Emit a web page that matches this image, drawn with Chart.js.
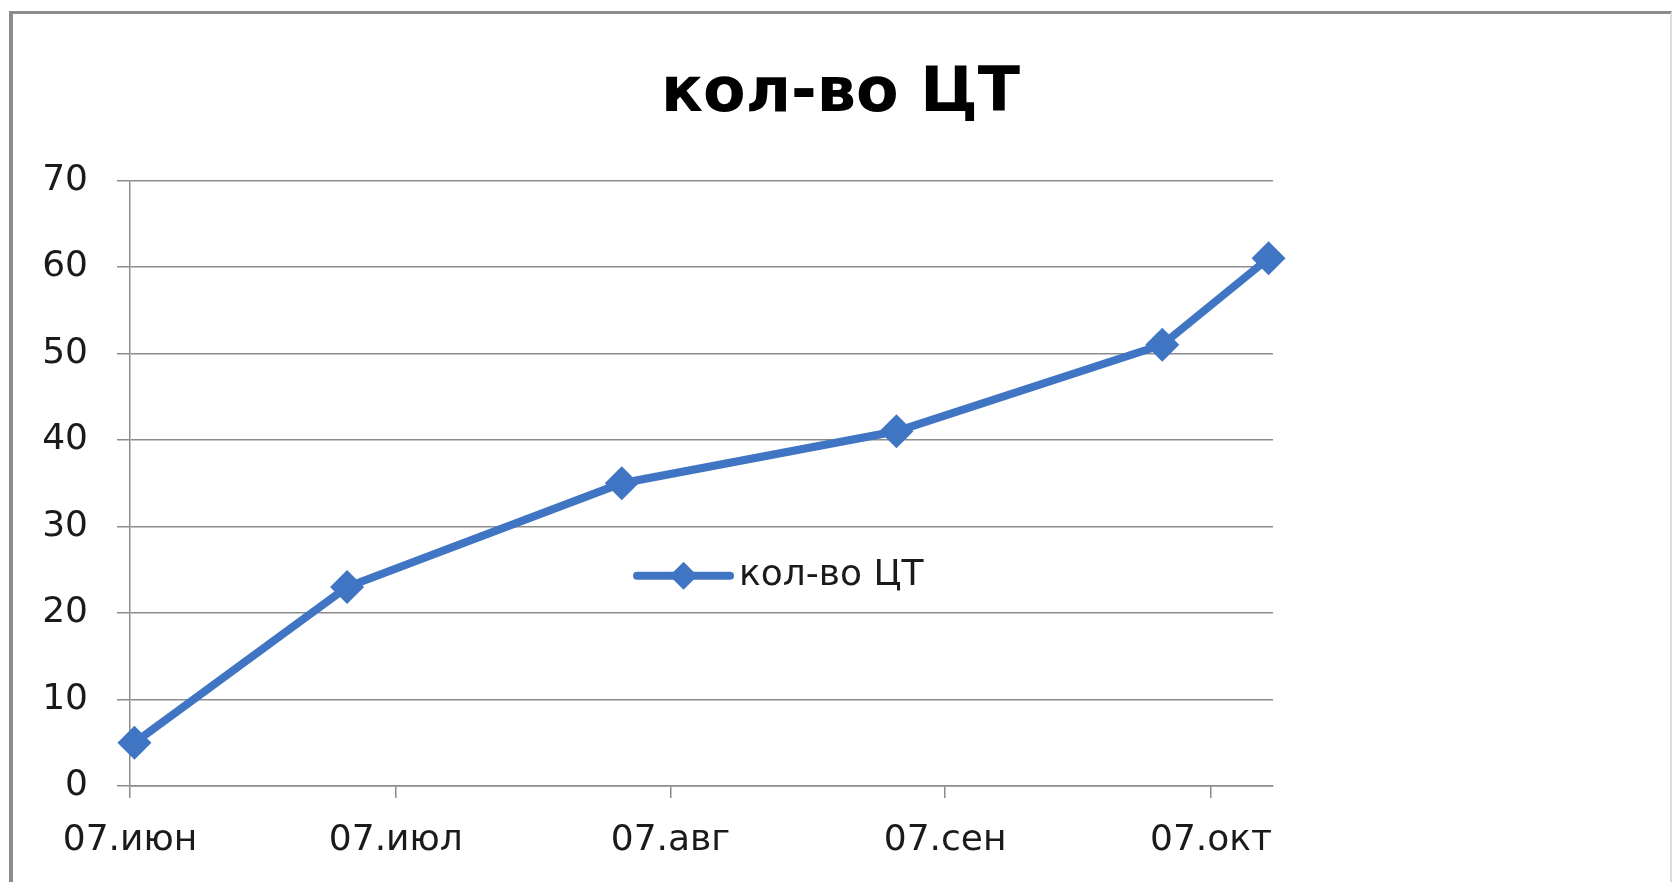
<!DOCTYPE html>
<html>
<head>
<meta charset="utf-8">
<title>кол-во ЦТ</title>
<script src="https://cdn.jsdelivr.net/npm/chart.js@4.4.1/dist/chart.umd.min.js"></script>
<style>
  html, body { margin: 0; padding: 0; background: #fff; overflow: hidden; }
  #frame {
    position: absolute; left: 9px; top: 11px;
    width: 1657px; height: 900px;
    border-left: 4px solid #8c8c8c;
    border-top: 3px solid #8c8c8c;
    border-right: 2px solid #dcdcdc;
    background: #fff;
  }
  #wrap { position: absolute; left: 0; top: 0; width: 1655px; height: 868px; }
</style>
</head>
<body>
<div id="frame">
  <div id="wrap"><canvas id="chart"></canvas></div>
</div>
<script>
// data
const seriesName = 'кол-во ЦТ';
const dates = ['2009-06-07', '2009-07-01', '2009-08-01', '2009-09-01', '2009-10-01', '2009-10-13'];
const counts = [5, 23, 35, 41, 51, 61];
const tickDates = ['2009-06-07', '2009-07-07', '2009-08-07', '2009-09-07', '2009-10-07'];
const tickLabels = ['07.июн', '07.июл', '07.авг', '07.сен', '07.окт'];

const blue = '#3f75c2';
const axisGray = '#8c8c8c';
const FONT = "'DejaVu Sans', sans-serif";

const DAY = 24 * 3600 * 1000;
const start = Date.parse(dates[0]);
const dayOf = d => Math.round((Date.parse(d) - start) / DAY);

// Excel date axis puts each point in the middle of its day
const points = dates.map((d, i) => ({ x: dayOf(d) + 0.5, y: counts[i] }));
const tickDays = tickDates.map(dayOf);
const lastDay = dayOf(dates[dates.length - 1]) + 1;

// legend sits inside the plot area, like the original
const inlineLegend = {
  id: 'inlineLegend',
  afterDraw(chart, args, opts) {
    const { ctx, chartArea } = chart;
    const ds = chart.data.datasets[0];
    const x0 = chartArea.left + chartArea.width * opts.x;
    const y = chartArea.top + chartArea.height * opts.y;
    const len = 93, r = 14;
    const cx = x0 + len / 2;
    ctx.save();
    ctx.strokeStyle = ds.borderColor;
    ctx.lineWidth = ds.borderWidth;
    ctx.lineCap = 'round';
    ctx.beginPath();
    ctx.moveTo(x0, y);
    ctx.lineTo(x0 + len, y);
    ctx.stroke();
    ctx.fillStyle = ds.backgroundColor;
    ctx.beginPath();
    ctx.moveTo(cx, y - r);
    ctx.lineTo(cx + r, y);
    ctx.lineTo(cx, y + r);
    ctx.lineTo(cx - r, y);
    ctx.closePath();
    ctx.fill();
    ctx.fillStyle = '#1a1a1a';
    ctx.font = '36px ' + FONT;
    ctx.textAlign = 'left';
    ctx.textBaseline = 'middle';
    ctx.fillText(ds.label, x0 + len + 9, y);
    ctx.restore();
  }
};

new Chart(document.getElementById('chart'), {
  type: 'line',
  data: {
    datasets: [{
      label: seriesName,
      data: points,
      borderColor: blue,
      backgroundColor: blue,
      borderWidth: 8,
      pointStyle: 'rectRot',
      pointRadius: 17,
      pointBorderWidth: 0,
      pointBackgroundColor: blue,
      tension: 0,
      clip: false
    }]
  },
  options: {
    responsive: true,
    maintainAspectRatio: false,
    animation: false,
    layout: { padding: 0 },
    plugins: {
      legend: { display: false },
      tooltip: { enabled: false },
      title: {
        display: true,
        text: seriesName,
        color: '#000',
        font: { family: FONT, size: 62, weight: 'bold' },
        padding: { top: 44, bottom: 48 }
      },
      inlineLegend: { x: 0.4436, y: 0.653 }
    },
    scales: {
      x: {
        type: 'linear',
        min: 0,
        max: lastDay,
        afterBuildTicks: scale => { scale.ticks = tickDays.map(v => ({ value: v })); },
        afterFit: scale => { scale.height = 96; },
        grid: { drawOnChartArea: false, drawTicks: true, tickLength: 12, color: axisGray, lineWidth: 1.5 },
        border: { color: axisGray, width: 1.5 },
        ticks: {
          color: '#1a1a1a',
          font: { family: FONT, size: 36 },
          padding: 21,
          maxRotation: 0,
          autoSkip: false,
          callback: v => tickLabels[tickDays.indexOf(v)]
        }
      },
      y: {
        min: 0,
        max: 70,
        afterFit: scale => { scale.width = 117; },
        grid: { color: axisGray, lineWidth: 1.5, tickLength: 13 },
        border: { color: axisGray, width: 1.5 },
        ticks: {
          stepSize: 10,
          color: '#1a1a1a',
          font: { family: FONT, size: 36 },
          padding: 29
        }
      },
      // empty area right of the plot (keeps the title centred on the whole frame)
      spacer: {
        axis: 'y',
        position: 'right',
        display: true,
        afterFit: scale => { scale.width = 395; },
        grid: { display: false },
        border: { display: false },
        ticks: { display: false }
      }
    }
  },
  plugins: [inlineLegend]
});
</script>
</body>
</html>
